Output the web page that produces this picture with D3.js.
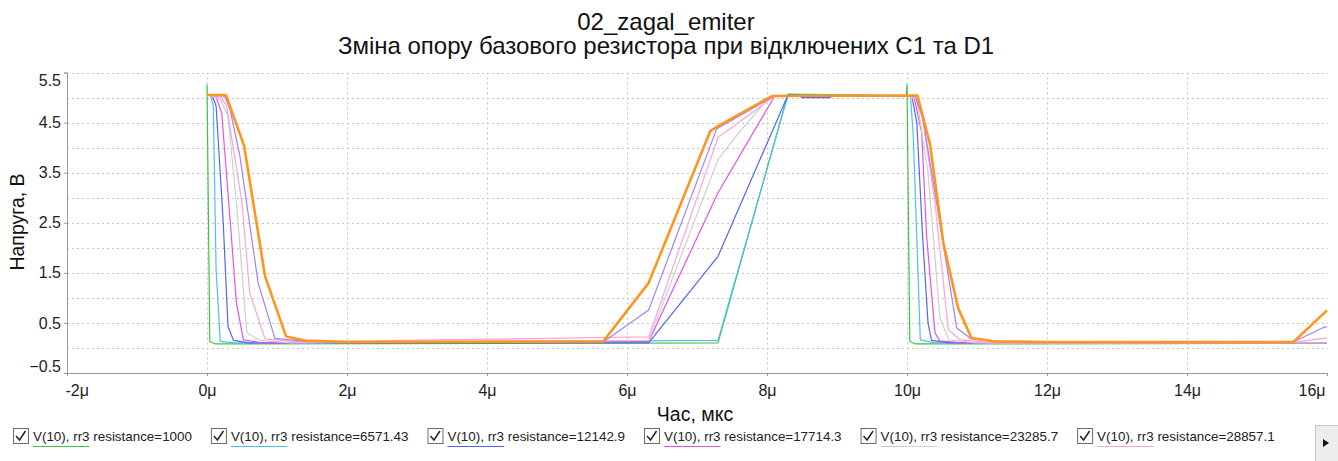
<!DOCTYPE html>
<html>
<head>
<meta charset="utf-8">
<script src="https://cdn.jsdelivr.net/npm/d3@7"></script>
<style>
  html, body { margin: 0; padding: 0; background: #fff; }
  svg { display: block; font-family: "Liberation Sans", Arial, sans-serif; }
</style>
</head>
<body>
<svg id="chart" width="1338" height="461"></svg>
<script>
// Transient response V(10), swept base resistor rr3. Time in μs, voltage in V.
const resistances = ["1000", "6571.43", "12142.9", "17714.3", "23285.7", "28857.1", "34428.6", "40000"];
const colors = ["#3ec43e", "#4fbef2", "#5563f5", "#e552e5", "#cfcfcf", "#ffa3d6", "#9d82ff", "#ff9420"];

const r1000 = [[0, 5.26], [0.04, 0.13], [0.12, 0.08], [7.3, 0.1], [8.3, 5.07], [9.99, 5.04],
  [10.0, 5.26], [10.04, 0.13], [10.12, 0.08], [16, 0.09]];
const r6571 = [[0, 5.05], [0.05, 5.05], [0.09, 4.83], [0.13, 1.56], [0.19, 0.13], [0.4, 0.1], [7.3, 0.15],
  [8.3, 5.05], [10.0, 5.04], [10.05, 5.02], [10.09, 4.23], [10.19, 0.16], [10.4, 0.1], [16, 0.1]];
const r12143 = [[0, 5.05], [0.07, 5.05], [0.13, 4.83], [0.23, 2.56], [0.3, 0.43], [0.38, 0.15], [0.6, 0.1],
  [6.31, 0.1], [7.3, 1.83], [8.3, 5.05], [8.45, 5.05], [8.5, 5.0], [8.9, 5.0], [8.95, 5.04], [10.0, 5.03],
  [10.07, 5.03], [10.14, 4.5], [10.22, 2.3], [10.3, 0.5], [10.35, 0.15], [10.6, 0.1], [16, 0.1]];
const r17714 = [[0, 5.05], [0.12, 5.05], [0.21, 4.69], [0.33, 2.56], [0.42, 0.9], [0.52, 0.16], [0.8, 0.1],
  [6.31, 0.13], [7.3, 3.1], [8.11, 5.03], [10.0, 5.03], [10.1, 5.02], [10.21, 4.3], [10.28, 2.23],
  [10.4, 0.3], [10.47, 0.14], [10.8, 0.1], [16, 0.1]];
const r23286 = [[0, 5.05], [0.19, 4.96], [0.3, 4.63], [0.42, 2.9], [0.57, 0.3], [0.76, 0.15], [1.2, 0.1],
  [6.31, 0.15], [7.3, 3.76], [7.6, 4.3], [8.0, 4.95], [8.1, 5.03], [10.0, 5.03], [10.14, 4.96],
  [10.3, 3.5], [10.47, 0.6], [10.6, 0.16], [11, 0.1], [16, 0.1]];
const r28857 = [[0, 5.05], [0.2, 5.0], [0.28, 4.83], [0.5, 2.9], [0.61, 1.1], [0.83, 0.18], [1.3, 0.12],
  [6.31, 0.22], [7.3, 4.2], [8.11, 5.03], [10.0, 5.03], [10.12, 5.0], [10.21, 4.7], [10.4, 2.9],
  [10.59, 0.37], [10.76, 0.16], [11.2, 0.1], [15.52, 0.11], [16, 0.2]];
const r34429 = [[0, 5.05], [0.25, 5.03], [0.33, 4.76], [0.47, 3.83], [0.73, 1.3], [0.97, 0.19], [1.4, 0.13],
  [2, 0.11], [5.66, 0.12], [6.31, 0.76], [7.28, 4.37], [8.1, 5.03], [10.0, 5.04], [10.12, 5.02],
  [10.23, 4.56], [10.5, 2.23], [10.71, 0.4], [10.92, 0.18], [11.3, 0.12], [15.52, 0.12], [15.95, 0.41], [16, 0.42]];
const r40000 = [[0, 5.05], [0.27, 5.05], [0.53, 4.04], [0.83, 1.43], [1.13, 0.23], [1.4, 0.15], [2, 0.12],
  [5.66, 0.13], [6.31, 1.3], [7.19, 4.33], [7.3, 4.43], [8.07, 5.03], [10.0, 5.04], [10.15, 5.04],
  [10.33, 4.06], [10.52, 2.09], [10.73, 0.8], [10.92, 0.2], [11.26, 0.13], [12, 0.12], [15.52, 0.12], [16, 0.75]];

const seriesPoints = [r1000, r6571, r12143, r17714, r23286, r28857, r34429, r40000];

const xTicks = [-2, 0, 2, 4, 6, 8, 10, 12, 14, 16];
const yTicks = [-0.5, 0.5, 1.5, 2.5, 3.5, 4.5, 5.5];
const yGrid = d3.range(-0.5, 5.51, 0.5);

const titleLines = ["02_zagal_emiter", "Зміна опору базового резистора при відключених С1 та D1"];

const svg = d3.select("#chart");
const plotL = 67, plotR = 1327, plotT = 72.5, plotB = 373;

const x = d3.scaleLinear().domain([-2, 16]).range([plotL, plotR]);
const y = d3.scaleLinear().domain([-0.5, 5.5]).range([plotB, plotT]);

// titles
svg.selectAll("text.title").data(titleLines).enter().append("text")
  .attr("class", "title")
  .attr("x", 666).attr("y", (d, i) => 29.5 + i * 24.5)
  .attr("text-anchor", "middle")
  .attr("font-size", 24).attr("fill", "#111")
  .text(d => d);

// grid
const grid = svg.append("g").attr("stroke", "#c4c4c4").attr("stroke-dasharray", "2,3").attr("stroke-width", 1);
grid.selectAll("line.h").data(yGrid.filter(v => v > -0.5)).enter().append("line")
  .attr("x1", plotL).attr("x2", plotR + 1)
  .attr("y1", d => Math.round(y(d)) + 0.5).attr("y2", d => Math.round(y(d)) + 0.5);
grid.selectAll("line.v").data(xTicks.filter(v => v > -2 && v < 16)).enter().append("line")
  .attr("y1", plotT).attr("y2", plotB)
  .attr("x1", d => Math.round(x(d)) + 0.5).attr("x2", d => Math.round(x(d)) + 0.5);

// axes
const xAxis = svg.append("g").attr("transform", `translate(0,${plotB})`)
  .call(d3.axisBottom(x).tickValues(xTicks).tickFormat(d => `${d}μ`).tickSize(3).tickPadding(9));
const yAxis = svg.append("g").attr("transform", `translate(${plotL},0)`)
  .call(d3.axisLeft(y).tickValues(yTicks).tickFormat(d3.format(".1f")).tickSize(3).tickPadding(3));
[xAxis, yAxis].forEach(a => {
  a.select(".domain").attr("stroke", "#9a9a9a");
  a.selectAll(".tick line").attr("stroke", "#9a9a9a");
  a.selectAll("text").attr("font-size", 16).attr("fill", "#222").attr("font-family", null);
});
// keep edge labels inside the plot extent
xAxis.selectAll(".tick text").each(function (d) {
  const w = this.getComputedTextLength();
  const cx = x(d);
  if (cx - w / 2 < plotL - 2) d3.select(this).attr("dx", plotL - 2 - (cx - w / 2));
  if (cx + w / 2 > plotR - 2) d3.select(this).attr("dx", plotR - 2 - (cx + w / 2));
});
yAxis.selectAll(".tick text").each(function (d) {
  const cy = y(d);
  if (cy < 80) d3.select(this).attr("dy", `${80 - cy + 5.5}px`);
  if (cy > 366) d3.select(this).attr("dy", `${366 - cy + 5.5}px`);
});

// axis titles
svg.append("text").attr("transform", "translate(24,222) rotate(-90)")
  .attr("text-anchor", "middle").attr("font-size", 19.5).attr("fill", "#111").text("Напруга, В");
svg.append("text").attr("x", 695).attr("y", 421)
  .attr("text-anchor", "middle").attr("font-size", 19.5).attr("fill", "#111").text("Час, мкс");

// curves
svg.append("clipPath").attr("id", "plotclip").append("rect")
  .attr("x", plotL).attr("y", plotT - 10).attr("width", plotR - plotL + 1).attr("height", plotB - plotT + 10);
const line = d3.line().x(d => x(d[0])).y(d => y(d[1]));
svg.append("g").attr("clip-path", "url(#plotclip)").attr("fill", "none")
  .selectAll("path").data(seriesPoints).enter().append("path")
  .attr("d", line)
  .attr("stroke", (d, i) => colors[i])
  .attr("stroke-width", (d, i) => i === seriesPoints.length - 1 ? 2.6 : 1.2)
  .attr("stroke-linejoin", "round");

// legend (first six items visible, rest behind scroll arrow)
const legend = svg.append("g");
let lx = 13;
resistances.slice(0, 6).forEach((r, i) => {
  const g = legend.append("g").attr("transform", `translate(${lx},428)`);
  g.append("rect").attr("x", 0.5).attr("y", 0.5).attr("width", 15).attr("height", 15)
    .attr("fill", "#fff").attr("stroke", "#6a6a6a");
  g.append("path").attr("d", "M3,8 L6.5,12 L12.5,3").attr("fill", "none")
    .attr("stroke", "#222").attr("stroke-width", 1.5);
  const t = g.append("text").attr("x", 20).attr("y", 13).attr("font-size", 13.4).attr("fill", "#222");
  const t1 = t.append("tspan").text("V(10), rr3");
  t.append("tspan").text(` resistance=${r}`);
  const uw = t1.node().getComputedTextLength();
  g.append("line").attr("x1", 20).attr("x2", 20 + uw).attr("y1", 18.5).attr("y2", 18.5)
    .attr("stroke", colors[i]).attr("stroke-width", 1);
  lx += 20 + t.node().getComputedTextLength() + 19;
});
const btn = svg.append("g").attr("transform", "translate(1315,425)");
btn.append("rect").attr("x", 0.5).attr("y", 0.5).attr("width", 23).attr("height", 36)
  .attr("fill", "#ececec").attr("stroke", "#c8c8c8");
btn.append("path").attr("d", "M8,14 L14,18 L8,22 Z").attr("fill", "#111");
</script>
</body>
</html>
